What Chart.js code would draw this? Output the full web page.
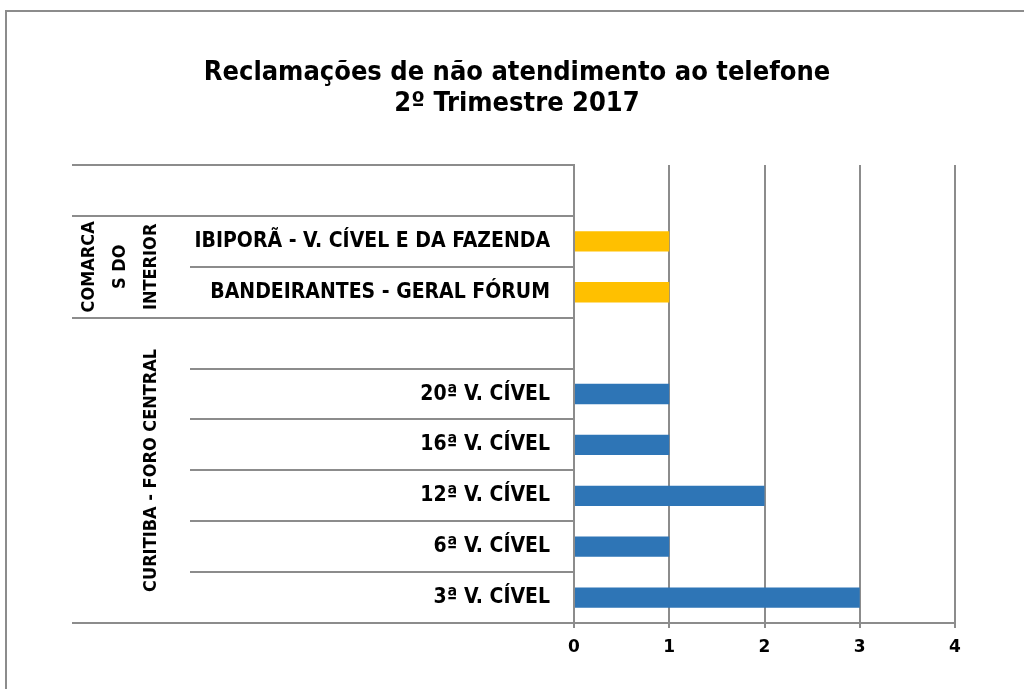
<!DOCTYPE html>
<html>
<head>
<meta charset="utf-8">
<script src="https://cdn.jsdelivr.net/npm/chart.js@4.4.0/dist/chart.umd.min.js"></script>
<style>
  html, body { margin: 0; padding: 0; background: #fff; }
  #wrap { width: 1024px; height: 689px; }
</style>
</head>
<body>
<div id="wrap"><canvas id="grafico" width="1024" height="689"></canvas></div>
<script>
// Dados do gráfico (de cima para baixo)
const categorias = ['', 'IBIPORÃ - V. CÍVEL E DA FAZENDA', 'BANDEIRANTES - GERAL FÓRUM', '',
    '20ª V. CÍVEL', '16ª V. CÍVEL', '12ª V. CÍVEL', '6ª V. CÍVEL', '3ª V. CÍVEL'];
const valores = [null, 1, 1, null, 1, 1, 2, 1, 3];
const grupos = ['', 'COMARCAS DO INTERIOR', 'CURITIBA - FORO CENTRAL'];
const tamanhoGrupos = [1, 2, 6];
const linhasGrupos = [[], ['COMARCA', 'S DO', 'INTERIOR'], ['CURITIBA - FORO CENTRAL']];
const ticksX = [0, 1, 2, 3, 4];

const fonteNarrow = "'Liberation Sans Narrow', 'DejaVu Sans Condensed', 'Arial Narrow', sans-serif";
const cinza = '#8c8c8c';

// cor de cada barra conforme o grupo
const cores = [];
tamanhoGrupos.forEach(function (n, g) {
    for (let i = 0; i < n; i++) cores.push(g === 1 ? '#FFC000' : '#2E75B6');
});

// Moldura, linhas da tabela de categorias e rótulos de grupo
const tabelaCategorias = {
    id: 'tabelaCategorias',
    beforeDraw: function (chart) {
        const ctx = chart.ctx;
        ctx.save();
        ctx.strokeStyle = cinza;
        ctx.lineWidth = 2;
        ctx.beginPath();
        ctx.moveTo(6, 700); ctx.lineTo(6, 11); ctx.lineTo(1030, 11);
        ctx.stroke();
        ctx.restore();
    },
    afterDraw: function (chart) {
        const ctx = chart.ctx;
        const y = chart.scales.y;
        const area = chart.chartArea;
        const n = categorias.length;
        const limites = [];
        for (let i = 0; i <= n; i++) {
            if (i === 0) limites.push(area.top);
            else if (i === n) limites.push(area.bottom);
            else limites.push((y.getPixelForValue(i - 1) + y.getPixelForValue(i)) / 2);
        }
        const bordasGrupo = [0];
        tamanhoGrupos.forEach(function (t) { bordasGrupo.push(bordasGrupo[bordasGrupo.length - 1] + t); });

        ctx.save();
        ctx.strokeStyle = cinza;
        ctx.lineWidth = 2;
        limites.forEach(function (py, i) {
            const x0 = bordasGrupo.indexOf(i) >= 0 ? 72 : 190;
            const yy = Math.round(py);
            ctx.beginPath();
            ctx.moveTo(x0, yy);
            ctx.lineTo(area.left, yy);
            ctx.stroke();
        });

        // rótulos de grupo (girados)
        ctx.fillStyle = '#000';
        ctx.font = 'bold 18px ' + fonteNarrow;
        ctx.textAlign = 'center';
        ctx.textBaseline = 'middle';
        linhasGrupos.forEach(function (linhas, g) {
            if (!linhas.length) return;
            const meio = (limites[bordasGrupo[g]] + limites[bordasGrupo[g + 1]]) / 2;
            linhas.forEach(function (txt, k) {
                const cx = 151 - (linhas.length - 1 - k) * 31;
                ctx.save();
                ctx.translate(cx, meio);
                ctx.rotate(-Math.PI / 2);
                ctx.fillText(txt, 0, 0);
                ctx.restore();
            });
        });
        ctx.restore();
    }
};

new Chart(document.getElementById('grafico').getContext('2d'), {
    type: 'bar',
    data: {
        labels: categorias,
        datasets: [{
            data: valores,
            backgroundColor: cores,
            borderWidth: 0,
            barPercentage: 0.4,
            categoryPercentage: 1
        }]
    },
    options: {
        indexAxis: 'y',
        responsive: false,
        animation: false,
        layout: { padding: { left: 79, right: 69, top: 0, bottom: 0 } },
        plugins: {
            legend: { display: false },
            tooltip: { enabled: false },
            title: {
                display: true,
                text: ['Reclamações de não atendimento ao telefone', '2º Trimestre 2017'],
                color: '#000',
                font: { family: fonteNarrow, size: 27, weight: 'bold', lineHeight: 1.15 },
                padding: { top: 57, bottom: 46 }
            }
        },
        scales: {
            x: {
                min: 0,
                max: 4,
                afterFit: function (s) { s.height = 66; },
                afterBuildTicks: function (s) { s.ticks = ticksX.map(function (v) { return { value: v }; }); },
                grid: { color: cinza, lineWidth: 2, tickLength: 5, tickColor: cinza },
                border: { display: true, color: cinza, width: 2 },
                ticks: { color: '#000', padding: 9, font: { family: "'DejaVu Sans', sans-serif", size: 17, weight: 'bold' } }
            },
            y: {
                afterFit: function (s) { s.width = 495; },
                grid: { drawOnChartArea: false, drawTicks: false },
                border: { display: true, color: cinza, width: 2 },
                ticks: { color: '#000', padding: 24, autoSkip: false, font: { family: fonteNarrow, size: 21, weight: 'bold' } }
            }
        }
    },
    plugins: [tabelaCategorias]
});
</script>
</body>
</html>
